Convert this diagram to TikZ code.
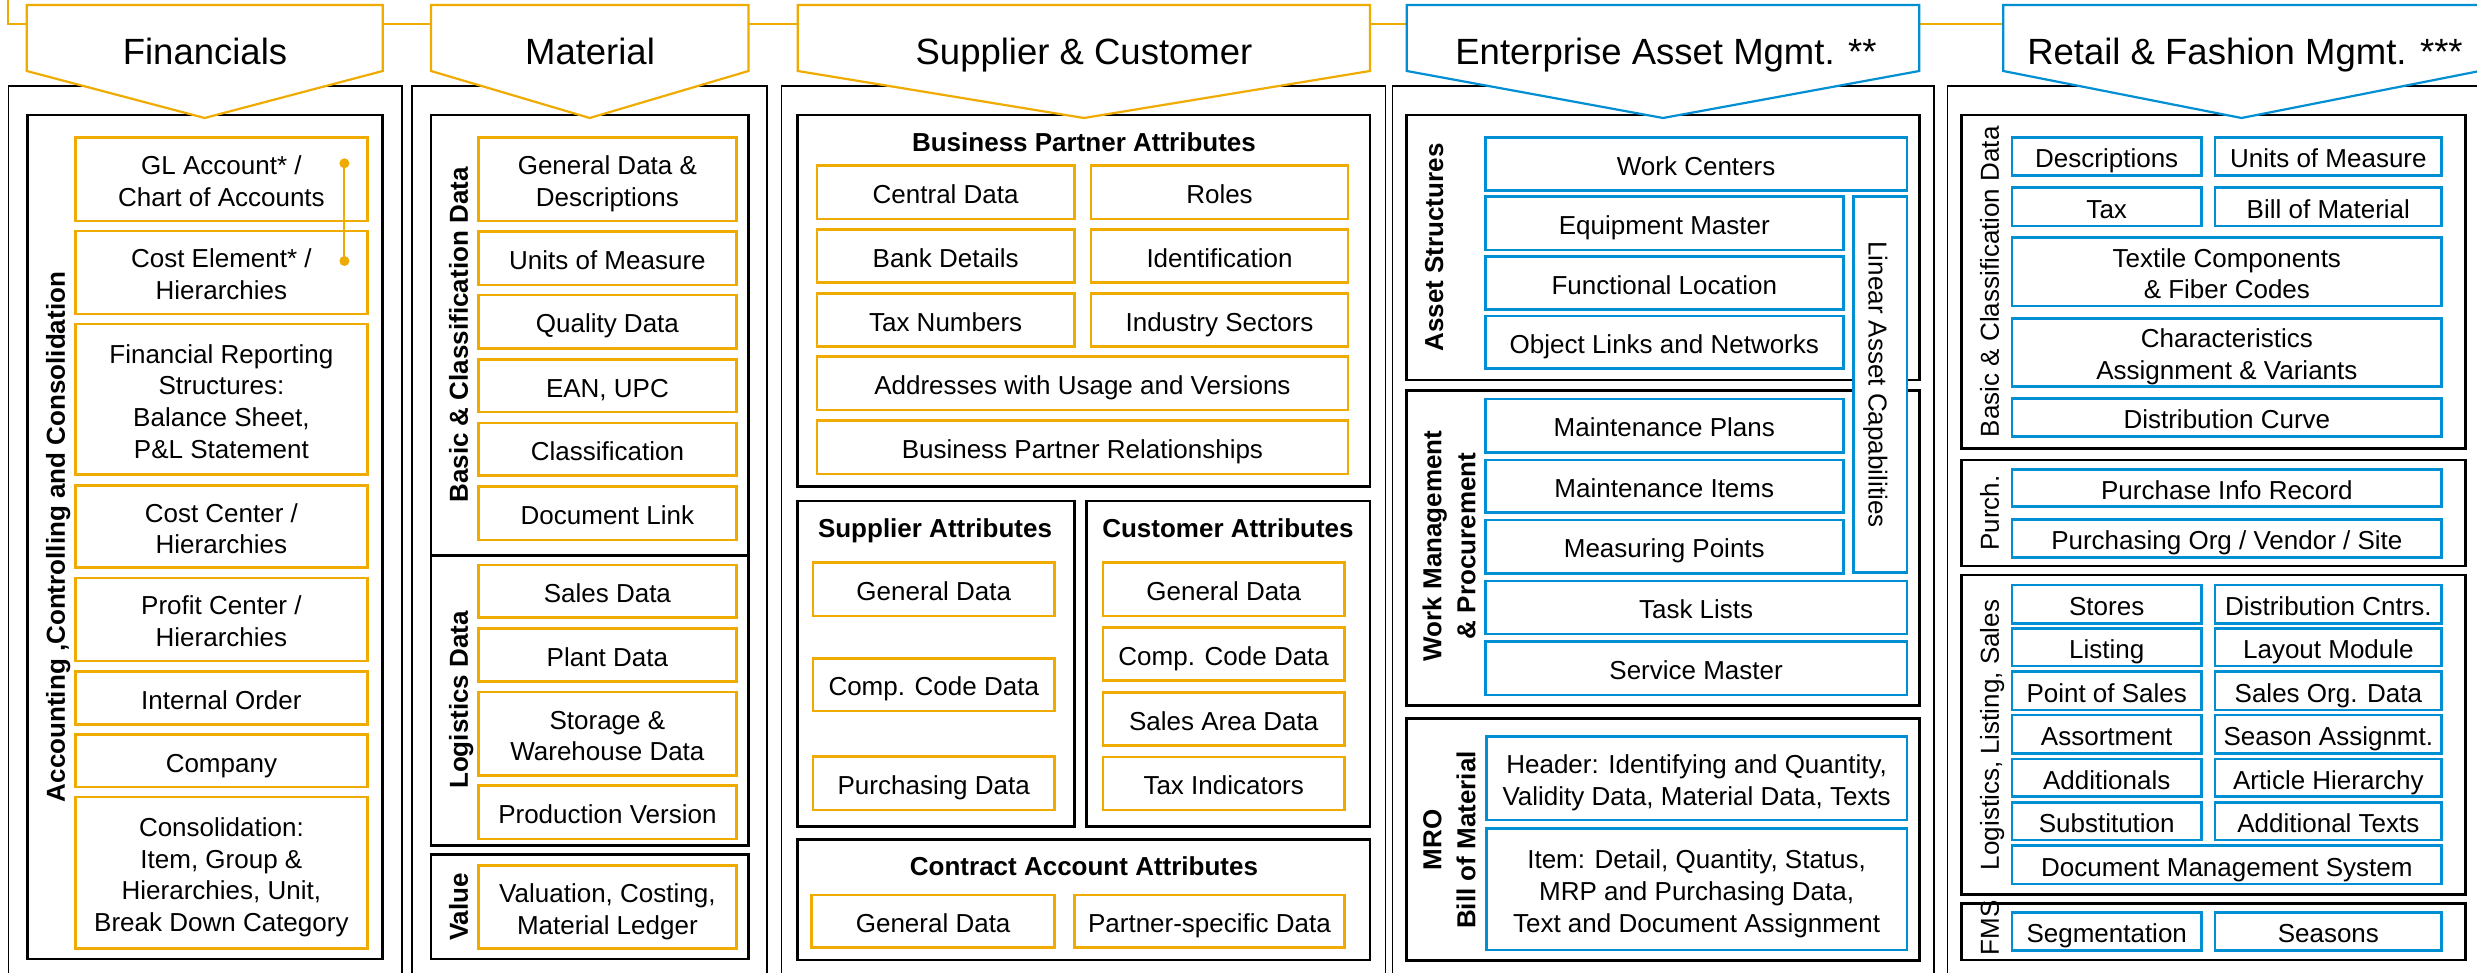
\documentclass[tikz,border=0pt]{standalone}
\usepackage{fontspec}
\setmainfont{Liberation Sans}
\definecolor{sapor}{HTML}{F0AB00}
\definecolor{sapbl}{HTML}{008FD3}
\newcommand\vsa{\rule{0pt}{28.1pt}}
\newcommand\vsb{\rule[-5.5pt]{0pt}{5.5pt}}
\newcommand\mlt[2][31.7pt]{\vbox{\baselineskip=#1\lineskiplimit=-100pt\lineskip=0pt\halign{\hfil##\hfil\cr\vsa#2\vsb\crcr}}}
\tikzset{
 ibase/.style={draw, line width=2.6pt, inner sep=0pt, outer sep=0pt,
   font=\fontsize{26}{31.7}\selectfont, fill=white},
 obox/.style={ibase, draw=sapor},
 bbox/.style={ibase, draw=sapbl},
 grp/.style={draw=black, line width=2.8pt, inner sep=0pt, outer sep=0pt},
 col/.style={draw=black, line width=1.8pt, inner sep=0pt, outer sep=0pt},
 penta/.style={line width=2.2pt, fill=white},
 ttl/.style={font=\fontsize{36.5}{40}\selectfont, anchor=base, inner sep=0pt},
 vlab/.style={rotate=90, font=\bfseries\fontsize{26}{34}\selectfont, inner sep=0pt},
 vlabr/.style={rotate=90, font=\fontsize{26}{31.7}\selectfont, inner sep=0pt},
 hdr/.style={font=\bfseries\fontsize{26}{31.7}\selectfont, inner sep=0pt, anchor=base},
}
\newcommand\bx[7]{\node[#1, minimum width={(#5)-(#3)}, minimum height={(#6)-(#4)}] (#2) at ({((#3)+(#5))/2},{((#4)+(#6))/2}) {\mlt{#7}};}
\newcommand\gx[6]{\node[#1, minimum width={(#5)-(#3)}, minimum height={(#6)-(#4)}] (#2) at ({((#3)+(#5))/2},{((#4)+(#6))/2}) {};}
\begin{document}
\begin{tikzpicture}[x=1pt,y=-1pt]
\useasboundingbox (0,0) rectangle (2477,973);
\clip (0,0) rectangle (2477,973);
\fill[white] (0,0) rectangle (2477,973);
% top bracket line
\coordinate (brk) at (8.3,-10);
\coordinate (rl) at (2003.2,24.3);
\draw[sapor, line width=2.2pt] (brk) |- (rl);
% columns
\gx{col}{cF}{8.5}{86}{401.6}{1000}
\gx{col}{cM}{412}{86}{767}{1000}
\gx{col}{cS}{781.5}{86}{1385.5}{1000}
\gx{col}{cE}{1392.5}{86}{1933.6}{1000}
\gx{col}{cR}{1947.4}{86}{2495}{1000}
% groups
\gx{grp}{fI}{27.3}{115}{382.7}{959}
\gx{grp}{mBas}{431}{115}{748.5}{555.4}
\gx{grp}{mLog}{431}{555.4}{748.5}{845.6}
\gx{grp}{mVal}{431}{854.6}{748.5}{959}
\gx{grp}{sBP}{797.8}{115}{1370}{486.7}
\gx{grp}{sSup}{797.8}{501}{1074.5}{826.7}
\gx{grp}{sCus}{1086.3}{501}{1370}{826.7}
\gx{grp}{sCA}{797.8}{839.3}{1370}{960}
\gx{grp}{eAS}{1406.8}{115}{1919.3}{380}
\gx{grp}{eWM}{1406.8}{390.7}{1919.3}{705.7}
\gx{grp}{eMRO}{1406.8}{718.3}{1919.3}{960.7}
\gx{grp}{rB}{1961.4}{115}{2465.4}{448.3}
\gx{grp}{rP}{1961.4}{460}{2465.4}{566}
\gx{grp}{rL}{1961.4}{575}{2465.4}{894.3}
\gx{grp}{rF}{1961.4}{903.3}{2465.4}{960}
% Financials items
\bx{obox}{gl}{75.5}{137.7}{367.3}{221}{GL Account* /\cr Chart of Accounts}
\bx{obox}{ce}{75.5}{231}{367.3}{314}{Cost Element* /\cr Hierarchies}
\bx{obox}{frs}{75.5}{324}{367.3}{474.7}{Financial Reporting\cr Structures:\cr Balance Sheet,\cr P\&L Statement}
\bx{obox}{cc}{75.5}{485.7}{367.3}{567.7}{Cost Center /\cr Hierarchies}
\bx{obox}{pc}{75.5}{578}{367.3}{661}{Profit Center /\cr Hierarchies}
\bx{obox}{io}{75.5}{671.4}{367.3}{724.7}{Internal Order}
\bx{obox}{co}{75.5}{734.5}{367.3}{787}{Company}
\bx{obox}{cons}{75.5}{797}{367.3}{948.5}{Consolidation:\cr Item, Group \&\cr Hierarchies, Unit,\cr Break Down Category}
\coordinate (dA) at (344.4,163.3);
\coordinate (dB) at (344.4,261);
\draw[sapor, line width=2pt] (dA) -- (dB);
\fill[sapor] (dA) circle (5);
\fill[sapor] (dB) circle (5);
% Material items
\bx{obox}{gd}{478.6}{137.7}{736.2}{221}{General Data \&\cr Descriptions}
\bx{obox}{uom}{478.6}{231.7}{736.2}{285}{Units of Measure}
\bx{obox}{qd}{478.6}{295}{736.2}{348.4}{Quality Data}
\bx{obox}{ean}{478.6}{359.5}{736.2}{412}{EAN, UPC}
\bx{obox}{cls}{478.6}{423}{736.2}{475.5}{Classification}
\bx{obox}{dl}{478.6}{486.6}{736.2}{540}{Document Link}
\bx{obox}{sd}{478.6}{564.8}{736.2}{617.7}{Sales Data}
\bx{obox}{pd}{478.6}{628.4}{736.2}{681.6}{Plant Data}
\bx{obox}{sw}{478.6}{692}{736.2}{775.5}{Storage \&\cr Warehouse Data}
\bx{obox}{pv}{478.6}{785.7}{736.2}{839}{Production Version}
\bx{obox}{val}{478.6}{865.7}{736.2}{948.5}{Valuation, Costing,\cr Material Ledger}
% Supplier & Customer
\node[hdr] (hBP) at (1084,151.5) {Business Partner Attributes};
\bx{obox}{cd}{816.8}{165.7}{1074.5}{219}{Central Data}
\bx{obox}{ro}{1091}{165.7}{1348}{219}{Roles}
\bx{obox}{bd}{816.8}{229.3}{1074.5}{282.7}{Bank Details}
\bx{obox}{idf}{1091}{229.3}{1348}{282.7}{Identification}
\bx{obox}{tn}{816.8}{293.3}{1074.5}{346.7}{Tax Numbers}
\bx{obox}{is}{1091}{293.3}{1348}{346.7}{Industry Sectors}
\bx{obox}{ad}{816.8}{356.7}{1348}{410}{Addresses with Usage and Versions}
\bx{obox}{bpr}{816.8}{420.7}{1348}{474}{Business Partner Relationships}
\node[hdr] (hSA) at (935,537) {Supplier Attributes};
\node[hdr] (hCA) at (1228,537) {Customer Attributes};
\bx{obox}{sgd}{812.8}{562.7}{1054.7}{616}{General Data}
\bx{obox}{scc}{812.8}{658.3}{1054.7}{711}{Comp. Code Data}
\bx{obox}{spd}{812.8}{756.7}{1054.7}{810}{Purchasing Data}
\bx{obox}{cgd}{1103}{562.7}{1344.4}{616}{General Data}
\bx{obox}{ccc}{1103}{627.3}{1344.4}{680.7}{Comp. Code Data}
\bx{obox}{csa}{1103}{692.3}{1344.4}{745.7}{Sales Area Data}
\bx{obox}{cti}{1103}{757}{1344.4}{810}{Tax Indicators}
\node[hdr] (hCo) at (1084,875) {Contract Account Attributes};
\bx{obox}{kgd}{811.6}{895}{1054.7}{947.7}{General Data}
\bx{obox}{kps}{1074.5}{895}{1344.4}{947.7}{Partner-specific Data}
% EAM
\bx{bbox}{wc}{1485.4}{137.7}{1906.8}{190.7}{Work Centers}
\bx{bbox}{em}{1485.4}{196.7}{1843.2}{250}{Equipment Master}
\bx{bbox}{fl}{1485.4}{256.7}{1843.2}{309.3}{Functional Location}
\bx{bbox}{ol}{1485.4}{316}{1843.2}{368.3}{Object Links and Networks}
\gx{bbox}{lac}{1853.2}{196.7}{1906.8}{572.3}
\node[vlabr, rotate=180] (lLA) at (lac) {\mlt{Linear Asset Capabilities}};
\bx{bbox}{mp}{1485.4}{399}{1843.2}{452.3}{Maintenance Plans}
\bx{bbox}{mi}{1485.4}{460}{1843.2}{512.3}{Maintenance Items}
\bx{bbox}{msp}{1485.4}{520}{1843.2}{573.3}{Measuring Points}
\bx{bbox}{tl}{1485.4}{581}{1906.8}{634}{Task Lists}
\bx{bbox}{sm}{1485.4}{641.7}{1906.8}{695}{Service Master}
\bx{bbox}{hd}{1486.4}{736.7}{1906.8}{820}{Header: Identifying and Quantity,\cr Validity Data, Material Data, Texts}
\bx{bbox}{it}{1486.4}{828.3}{1906.8}{950}{Item: Detail, Quantity, Status,\cr MRP and Purchasing Data,\cr Text and Document Assignment}
% Retail
\bx{bbox}{rde}{2012}{137.7}{2201.4}{175.7}{Descriptions}
\bx{bbox}{ruo}{2215}{137.7}{2441.7}{175.7}{Units of Measure}
\bx{bbox}{rtx}{2012}{187.7}{2201.4}{226}{Tax}
\bx{bbox}{rbm}{2215}{187.7}{2441.7}{226}{Bill of Material}
\bx{bbox}{rtc}{2012}{237.7}{2441.7}{306}{Textile Components\cr \& Fiber Codes}
\bx{bbox}{rch}{2012}{318.3}{2441.7}{386.7}{Characteristics\cr Assignment \& Variants}
\bx{bbox}{rdc}{2012}{398.3}{2441.7}{436.7}{Distribution Curve}
\bx{bbox}{rpi}{2012}{469.3}{2441.7}{506.7}{Purchase Info Record}
\bx{bbox}{rpo}{2012}{519.3}{2441.7}{557.7}{Purchasing Org / Vendor / Site}
\bx{bbox}{rst}{2012}{585}{2201.4}{623.3}{Stores}
\bx{bbox}{rdn}{2215}{585}{2441.7}{623.3}{Distribution Cntrs.}
\bx{bbox}{rli}{2012}{628.3}{2201.4}{666}{Listing}
\bx{bbox}{rlm}{2215}{628.3}{2441.7}{666}{Layout Module}
\bx{bbox}{rps}{2012}{671.7}{2201.4}{710}{Point of Sales}
\bx{bbox}{rso}{2215}{671.7}{2441.7}{710}{Sales Org. Data}
\bx{bbox}{ras}{2012}{715}{2201.4}{753.3}{Assortment}
\bx{bbox}{rsa}{2215}{715}{2441.7}{753.3}{Season Assignmt.}
\bx{bbox}{rad}{2012}{759}{2201.4}{796.7}{Additionals}
\bx{bbox}{rah}{2215}{759}{2441.7}{796.7}{Article Hierarchy}
\bx{bbox}{rsu}{2012}{802.3}{2201.4}{840}{Substitution}
\bx{bbox}{rat}{2215}{802.3}{2441.7}{840}{Additional Texts}
\bx{bbox}{rdm}{2012}{845.7}{2441.7}{884}{Document Management System}
\bx{bbox}{rsg}{2012}{912.3}{2201.4}{950.7}{Segmentation}
\bx{bbox}{rse}{2215}{912.3}{2441.7}{950.7}{Seasons}
% vertical labels
\node[vlab] (lF) at (53.6,537) {\mlt[34pt]{Accounting ,Controlling and Consolidation}};
\node[vlab] (lMB) at (456.6,335) {\mlt[34pt]{Basic \& Classification Data}};
\node[vlab] (lML) at (456.6,700) {\mlt[34pt]{Logistics Data}};
\node[vlab] (lMV) at (456.6,907) {\mlt[34pt]{Value}};
\node[vlab] (lEA) at (1431.8,247.5) {\mlt[34pt]{Asset Structures}};
\node[vlab] (lEW) at (1447,546) {\mlt[34pt]{Work Management\cr \& Procurement}};
\node[vlab] (lEM) at (1447,840) {\mlt[34pt]{MRO\cr Bill of Material}};
\node[vlabr] (lRB) at (1987.5,281.7) {\mlt{Basic \& Classification Data}};
\node[vlabr] (lRP) at (1987.5,513) {\mlt{Purch.}};
\node[vlabr] (lRL) at (1987.5,735) {\mlt{Logistics, Listing, Sales}};
\node[vlabr] (lRF) at (1987.5,928) {\mlt{FMS}};
% pentagons
\draw[penta, draw=sapor] (26.7,5) -- (382.7,5) -- (382.7,71) -- (204.7,118) -- (26.7,71) -- cycle;
\draw[penta, draw=sapor] (431,5) -- (748.5,5) -- (748.5,71) -- (589.7,118) -- (431,71) -- cycle;
\draw[penta, draw=sapor] (797.8,5) -- (1370,5) -- (1370,71) -- (1083.9,118) -- (797.8,71) -- cycle;
\draw[penta, draw=sapbl] (1406.8,5) -- (1919.3,5) -- (1919.3,71) -- (1663,118) -- (1406.8,71) -- cycle;
\draw[penta, draw=sapbl] (2003.2,5) -- (2479.8,5) -- (2479.8,71) -- (2241.5,118) -- (2003.2,71) -- cycle;
\node[ttl] (tF) at (205,64.5) {Financials};
\node[ttl] (tM) at (590,64.5) {Material};
\node[ttl] (tS) at (1084,64.5) {Supplier \& Customer};
\node[ttl] (tE) at (1666,64.5) {Enterprise Asset Mgmt. **};
\node[ttl] (tR) at (2245,64.5) {Retail \& Fashion Mgmt. ***};
\end{tikzpicture}
\end{document}
